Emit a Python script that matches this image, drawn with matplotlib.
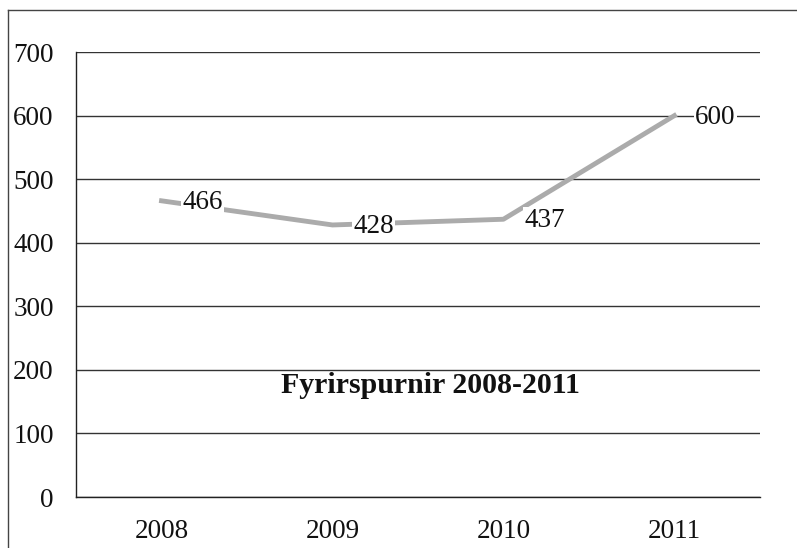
import matplotlib.pyplot as plt
from matplotlib.lines import Line2D

years = ['2008', '2009', '2010', '2011']
counts = [466, 428, 437, 600]
yticks = [0, 100, 200, 300, 400, 500, 600, 700]
title = 'Fyrirspurnir 2008-2011'

plt.rcParams['font.family'] = ['Liberation Serif', 'DejaVu Serif']

fig = plt.figure(figsize=(7.97, 5.48), dpi=100)
ax = fig.add_axes([0.0954, 0.093, 0.858, 0.812])

x = list(range(len(years)))
ax.plot(x, counts, color='#ababab', lw=3.5, zorder=3, solid_joinstyle='round')

for xi, v in zip(x, counts):
    ax.annotate(str(v), (xi, v), xytext=(15, -1), textcoords='offset points',
                ha='left', va='center', fontsize=19.5, color='#111111', zorder=4,
                bbox=dict(boxstyle='square,pad=0.05', fc='white', ec='none'))

ax.set_xlim(-0.5, len(years) - 0.5)
ax.set_ylim(0, 700)
ax.set_xticks(x)
ax.set_xticklabels(years)
ax.set_yticks(yticks)
ax.tick_params(axis='both', length=0, labelsize=19.5, labelcolor='#111111')
ax.tick_params(axis='y', pad=16)
ax.tick_params(axis='x', pad=16)

ax.yaxis.grid(True, color='#333333', lw=1.0)
ax.set_axisbelow(True)
for s in ['top', 'right']:
    ax.spines[s].set_visible(False)
ax.spines['left'].set_color('#222222')
ax.spines['bottom'].set_color('#222222')
ax.spines['left'].set_linewidth(1.0)
ax.spines['bottom'].set_linewidth(1.0)

ax.text(0.518, 0.25, title, transform=ax.transAxes, ha='center', va='center',
        fontsize=21.5, fontweight='bold', color='#111111')

# outer frame of the scanned page
fx = 8 / 797
fy = 1 - 10 / 548
fig.add_artist(Line2D([fx, 1], [fy, fy], color='#444444', lw=1.0))
fig.add_artist(Line2D([fx, fx], [0, fy], color='#444444', lw=1.0))

fig.savefig('out.png', dpi=100)
